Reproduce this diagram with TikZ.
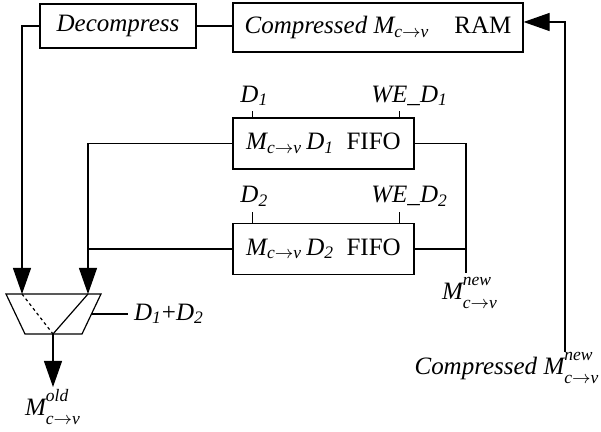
\documentclass[tikz,border=0pt]{standalone}
\usepackage{amsmath}
\usepackage{fontspec}
\setmainfont{Liberation Serif}
\usetikzlibrary{arrows.meta}
\usetikzlibrary{positioning}

% M_{c->v} with an optional superscript
\newcommand{\Mcv}[1]{$\textit{M}^{\textit{#1}\rule[-2.5pt]{0pt}{0pt}}_{\textit{c}\to\textit{v}\rule{0pt}{7pt}}$}
\newcommand{\Dsub}[1]{\textit{D}$_{\textit{#1}}$}

\begin{document}
\begin{tikzpicture}[x=0.5pt, y=-0.5pt, line width=0.6pt,
  every node/.style={font=\fontsize{12.5}{15}\selectfont},
  blk/.style={draw, rectangle, inner sep=0pt},
  fifo/.style={blk, minimum width=90.5pt, minimum height=25.5pt},
  arr/.style={-{Triangle[length=13pt, width=9pt]}}]

\useasboundingbox (0,0) rectangle (601,432);

% Memory and decompressor
\node[blk, minimum width=78pt, minimum height=22pt] (dec) at (118,26) {\textit{Decompress}};
\node[blk, minimum width=145pt, minimum height=24.5pt] (ram) at (378,27.5) {\textit{Compressed} $\textit{M}_{\textit{c}\to\textit{v}}$\quad RAM};
\draw (dec.east) -- (dec.east -| ram.west);

% FIFOs
\node[fifo] (fa) at (323.5,143.5) {$\textit{M}_{\textit{c}\to\textit{v}}$\,\Dsub{1}\enspace FIFO};
\node[fifo] (fb) at (323.5,249) {$\textit{M}_{\textit{c}\to\textit{v}}$\,\Dsub{2}\enspace FIFO};

% Control inputs
\draw ([xshift=10pt]fa.north west) -- ++(0,-6) node[above, inner sep=2.5pt, xshift=1pt] (lda) {\Dsub{1}};
\draw ([xshift=-7.5pt]fa.north east) -- ++(0,-6) node[above, inner sep=2.5pt, xshift=5pt] (wea) {\textit{WE\_}\Dsub{1}};
\draw ([xshift=10pt]fb.north west) -- ++(0,-11) node[above, inner sep=2.5pt, xshift=1pt] (ldb) {\Dsub{2}};
\draw ([xshift=-7.5pt]fb.north east) -- ++(0,-11) node[above, inner sep=2.5pt, xshift=5pt] (web) {\textit{WE\_}\Dsub{2}};

% Write bus
\coordinate (bus) at (466,273);
\draw (fa.east) -| (bus);
\draw (fb.east) -- (fb.east -| bus);
\node[below, inner sep=2pt, xshift=2pt] (mnew) at (bus) {\Mcv{new}};

% Mux
\coordinate (mtl) at (6,294);
\coordinate (mtr) at (101,294);
\coordinate (mbr) at (82,334);
\coordinate (mbl) at (25,334);
\coordinate (ina) at (22,294);
\coordinate (inb) at (88,294);
\coordinate (mout) at (53,334);
\coordinate (msel) at (91.5,314);
\draw (mtl) -- (mtr) -- (mbr) -- (mbl) -- cycle;
\draw[dash pattern=on 1.5pt off 1.5pt] (ina) -- (mout);
\draw (inb) -- (mout);

% Mux inputs
\draw[arr] (dec.west) -| (ina);
\draw[arr] (fa.west) -| (inb);
\draw (fb.west) -- (fb.west -| inb);

% Select and output
\draw (msel) -- ++(36,0) node[right, inner sep=3pt] (lsel) {\Dsub{1}+\Dsub{2}};
\draw[arr] (mout) -- ++(0,53) node[below, inner sep=1pt] (mold) {\Mcv{old}};

% Feedback to RAM
\coordinate (fbk) at (565,352);
\node[anchor=north, inner sep=0pt] (lcomp) at (507,352) {\textit{Compressed} \Mcv{new}};
\draw[arr] (fbk) |- ([yshift=2.75pt]ram.east);

\end{tikzpicture}
\end{document}
